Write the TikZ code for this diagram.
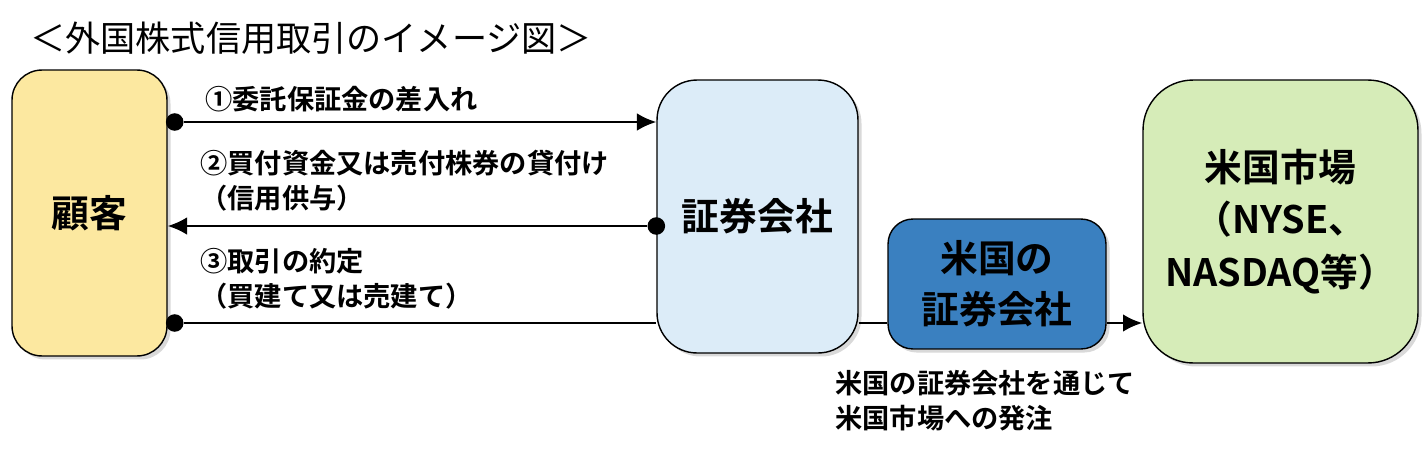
\documentclass[tikz,border=0pt]{standalone}
\usepackage{fontspec}
\setmainfont{Noto Sans CJK JP}[BoldFont={Noto Sans CJK JP Bold}]
\usetikzlibrary{arrows.meta,positioning,shadows}
\tikzset{>=Latex}

\begin{document}
\begin{tikzpicture}[x=0.02cm,y=-0.02cm]
		\definecolor{custcolor}{RGB}{252,232,160}
		\definecolor{seccolor}{RGB}{220,236,248}
		\definecolor{ussecolor}{RGB}{58,128,192}
		\definecolor{mktcolor}{RGB}{214,236,184}
		\tikzset{box/.style={draw,thick,inner sep=0pt,drop shadow={opacity=0.3,shadow xshift=2pt,shadow yshift=-2pt},font=\fontsize{21.5pt}{29pt}\selectfont\bfseries,align=center}}
		\tikzset{lbl/.style={font=\fontsize{15.5pt}{20pt}\selectfont\bfseries,align=left,anchor=south west,inner sep=0pt}}
		\tikzset{sa/.style={->,line width=1.3pt,>={Latex[length=11pt,width=10pt]}}}
		\tikzset{dot/.style={circle,fill=black,inner sep=0pt,minimum size=10pt}}
		\useasboundingbox (0,0) rectangle (1424,457);

		% Title
		\node[anchor=west,inner sep=0pt,font=\fontsize{20pt}{24pt}\selectfont] (title) at (30,38) {＜外国株式信用取引のイメージ図＞};

		% Boxes
		\node[box,fill=custcolor,rounded corners=0.6cm,minimum width=3.1cm,minimum height=5.72cm] (cust) at (89.5,213) {顧客};
		\node[box,fill=seccolor,rounded corners=0.8cm,minimum width=4.02cm,minimum height=5.46cm] (sec) at (757.5,216.5) {証券会社};
		\node[box,fill=ussecolor,rounded corners=0.5cm,minimum width=4.36cm,minimum height=2.6cm] (ussec) at (997,284) {米国の\\証券会社};
		\node[box,fill=mktcolor,rounded corners=1cm,minimum width=5.5cm,minimum height=5.66cm,font=\fontsize{21.5pt}{30pt}\selectfont\bfseries] (mkt) at (1280.5,221.5) {米国市場\\（NYSE、\\NASDAQ等）};

		% Flows
		\coordinate (y1) at (0,122);
		\coordinate (y2) at (0,226);
		\coordinate (y3) at (0,323);
		\node[dot] (d1) at ([xshift=4pt]cust.east |- y1) {};
		\node[dot] (d2) at (sec.west |- y2) {};
		\node[dot] (d3) at ([xshift=4pt]cust.east |- y3) {};
		\draw[sa] (d1) -- (sec.west |- y1);
		\draw[sa] (d2) -- (cust.east |- y2);
		\draw[line width=1.3pt] (d3) -- (sec.west |- y3);
		\draw[line width=1.3pt] (sec.east |- y3) -- (ussec.west |- y3);
		\draw[sa] (ussec.east |- y3) -- (mkt.west |- y3);

		% Labels
		\node[lbl] (l1) at (205,112) {①委託保証金の差入れ};
		\node[lbl] (l2) at (200,212) {②買付資金又は売付株券の貸付け\\（信用供与）};
		\node[lbl] (l3) at (200,310) {③取引の約定\\（買建て又は売建て）};
		\node[lbl,anchor=north west] (l4) at (835,370) {米国の証券会社を通じて\\米国市場への発注};
	\end{tikzpicture}
\end{document}
